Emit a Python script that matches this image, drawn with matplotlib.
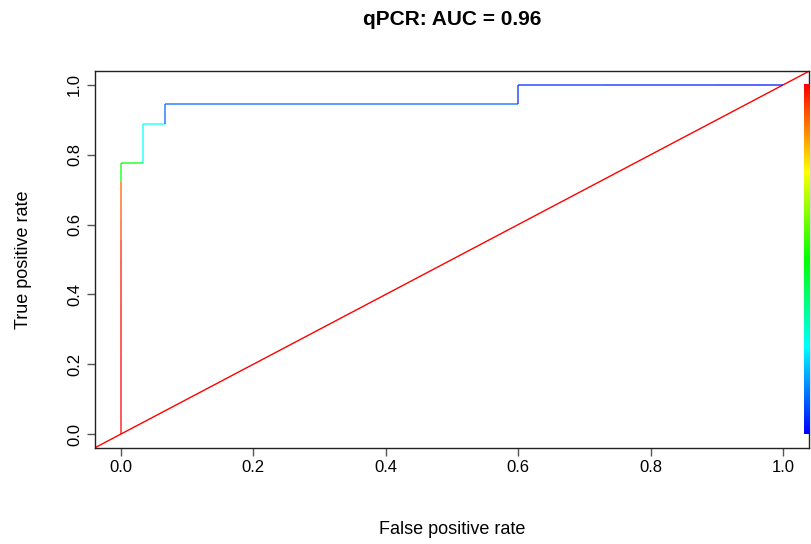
import numpy as np
import matplotlib
matplotlib.use("Agg")
import matplotlib.pyplot as plt
from matplotlib.collections import LineCollection
from matplotlib.colors import hsv_to_rgb

plt.rcParams['font.family'] = ['Liberation Sans', 'DejaVu Sans']

title = "qPCR: AUC = 0.96"
xlabel = "False positive rate"
ylabel = "True positive rate"

# ROC points (fpr, tpr)
fpr = [0, 0, 0, 0, 0, 0, 0, 0, 0, 0, 0, 0, 0, 0, 0,
       1/30, 1/30, 2/30, 2/30, 0.2, 0.4, 0.6, 0.6, 20/30, 22/30, 23/30, 27/30, 1.0]
tpr = [0, 1/18, 2/18, 3/18, 4/18, 5/18, 6/18, 7/18, 8/18, 9/18, 10/18, 11/18, 12/18, 13/18, 14/18,
       14/18, 16/18, 16/18, 17/18, 17/18, 17/18, 17/18, 1.0, 1.0, 1.0, 1.0, 1.0, 1.0]
# normalised cutoff for each step between points (1 = top of colour bar, red)
cutoff = [1.0, 1.0, 1.0, 1.0, 0.995, 0.99, 0.99, 0.985, 0.98, 0.97, 0.93, 0.92, 0.91, 0.5,
          0.5, 0.25, 0.25, 0.1, 0.1, 0.1, 0.1, 0.04, 0.04, 0.04, 0.03, 0.03, 0.02]


def rainbow(v):
    # R rainbow(start=0, end=4/6): v=1 -> red, v=0 -> blue
    h = (1 - np.asarray(v)) * 4 / 6
    return hsv_to_rgb(np.stack([h, np.ones_like(h), np.ones_like(h)], axis=-1))


fig = plt.figure(figsize=(8.12, 5.44), dpi=100)
ax = fig.add_axes([0.1164, 0.1765, 0.8805, 0.693])

pts = np.column_stack([fpr, tpr])
segs = np.stack([pts[:-1], pts[1:]], axis=1)
cols = rainbow(np.array(cutoff))
lc = LineCollection(segs, colors=cols, linewidths=1.4, alpha=0.65, zorder=3)
ax.add_collection(lc)

# diagonal
ax.axline((0, 0), slope=1, color="red", lw=1.0, zorder=2)

# colour bar inside the plot on the right
bar = np.linspace(0, 1, 256).reshape(-1, 1)
ax.imshow(rainbow(bar), extent=(1.032, 1.04, 0, 1), origin="lower", aspect="auto", zorder=4)

ax.set_xlim(-0.04, 1.04)
ax.set_ylim(-0.04, 1.04)
ax.set_xticks(np.arange(0, 1.01, 0.2))
ax.set_yticks(np.arange(0, 1.01, 0.2))
ax.set_xticklabels([f"{v:.1f}" for v in np.arange(0, 1.01, 0.2)])
ax.set_yticklabels([f"{v:.1f}" for v in np.arange(0, 1.01, 0.2)], rotation=90, va="center")
ax.tick_params(direction="out", length=6, width=1, labelsize=12, pad=3, colors="#555555", labelcolor="black")
for s in ax.spines.values():
    s.set_linewidth(1)
    s.set_color("#222222")

ax.set_xlabel(xlabel, fontsize=13, labelpad=33)
ax.set_ylabel(ylabel, fontsize=13, labelpad=25)
ax.set_title(title, fontsize=15, fontweight="bold", pad=33)

fig.savefig("out.png", dpi=100)
